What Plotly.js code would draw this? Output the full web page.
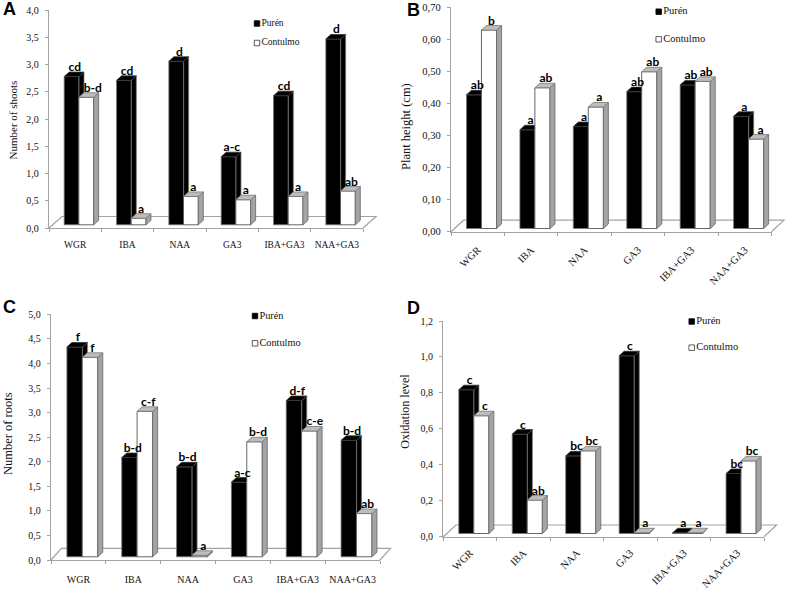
<!DOCTYPE html>
<html>
<head>
<meta charset="utf-8">
<script src="https://cdn.plot.ly/plotly-3.0.1.min.js"></script>
<style>html,body{margin:0;padding:0;background:#fff}#chart{width:787px;height:593px}</style>
</head>
<body>
<div id="chart"></div>
<script>
const W = 787, H = 593;
const categories = ['WGR', 'IBA', 'NAA', 'GA3', 'IBA+GA3', 'NAA+GA3'];
const seriesNames = ['Purén', 'Contulmo'];

const shootsPuren    = [2.72, 2.65, 3.00, 1.25, 2.37, 3.41];
const shootsContulmo = [2.34, 0.12, 0.52, 0.46, 0.52, 0.62];
const shootsLetters1 = ['cd', 'cd', 'd', 'a-c', 'cd', 'd'];
const shootsLetters2 = ['b-d', 'a', 'a', 'a', 'a', 'ab'];

const heightPuren    = [0.417, 0.308, 0.318, 0.427, 0.448, 0.350];
const heightContulmo = [0.619, 0.439, 0.379, 0.489, 0.459, 0.279];
const heightLetters1 = ['ab', 'a', 'a', 'ab', 'ab', 'a'];
const heightLetters2 = ['b', 'ab', 'a', 'ab', 'ab', 'a'];

const rootsPuren    = [4.27, 2.02, 1.83, 1.52, 3.18, 2.37];
const rootsContulmo = [4.06, 2.96, 0.03, 2.34, 2.56, 0.88];
const rootsLetters1 = ['f', 'b-d', 'b-d', 'a-c', 'd-f', 'b-d'];
const rootsLetters2 = ['f', 'c-f', 'a', 'b-d', 'c-e', 'ab'];

const oxPuren    = [0.80, 0.553, 0.432, 0.989, 0.004, 0.334];
const oxContulmo = [0.655, 0.186, 0.46, 0.004, 0.004, 0.404];
const oxLetters1 = ['c', 'c', 'bc', 'c', 'a', 'bc'];
const oxLetters2 = ['c', 'ab', 'bc', 'a', 'a', 'bc'];

const panels = [
  {letter:'A', lx:9,  ly:9, a:shootsPuren, b:shootsContulmo, la:shootsLetters1, lb:shootsLetters2, nudgeB:[4,0,0,0,0,1],
   ymax:4, dtick:0.5, fmt:'.1f', title:'Number of shoots', tx:12, ty:120.5, tsize:11,
   left:49, right:363, top:10, bottom:228, floorDx:13, floorDy:11.5, tick:10, cat:9.5, angle:0, stand:8,
   leg:[257,23.5,43], legSize:9.5},
  {letter:'B', lx:413, ly:10, a:heightPuren, b:heightContulmo, la:heightLetters1, lb:heightLetters2, nudgeB:[0,1,1,1,1,2],
   ymax:0.7, dtick:0.1, fmt:'.2f', title:'Plant height (cm)', tx:406, ty:127, tsize:12.5,
   left:451, right:771.5, top:7.3, bottom:231.7, floorDx:12.5, floorDy:11.5, tick:10.5, cat:10.5, angle:-45, stand:7,
   leg:[658.7,11.7,39.3], legSize:10.5},
  {letter:'C', lx:9, ly:307, a:rootsPuren, b:rootsContulmo, la:rootsLetters1, lb:rootsLetters2, nudgeB:[0,1,1,1,3,1],
   ymax:5, dtick:0.5, fmt:'.1f', title:'Number of roots', tx:8, ty:434, tsize:12.5,
   left:51, right:380, top:314.3, bottom:560, floorDx:10.5, floorDy:11.7, tick:10, cat:10, angle:0, stand:10,
   leg:[255,316,343.3], legSize:10.3},
  {letter:'D', lx:413, ly:308, a:oxPuren, b:oxContulmo, la:oxLetters1, lb:oxLetters2, nudgeB:[1,1,1,1,1,1],
   ymax:1.2, dtick:0.2, fmt:'.1f', title:'Oxidation level', tx:405, ty:411.7, tsize:12,
   left:443.3, right:764, top:321, bottom:536.7, floorDx:12.7, floorDy:11.7, tick:10, cat:10.5, angle:-45, stand:5,
   leg:[691.7,321.5,347.7], legSize:10.5}
];

const GRAY = '#a3a3a3', SERIF = '"Liberation Serif", serif';
const BAR_W = 0.283, OFF_A = -0.21, OFF_B = 0.07;
const DEPTH_X = 5, DEPTH_Y = 4.5, BASE_LIFT = 3.2, LABEL_LIFT = 4;
const xIdx = categories.map((_, i) => i);
const traces = [], shapes = [], annotations = [], layout = {
  width: W, height: H, autosize: false, separators: ',.',
  margin: {l: 0, r: 0, t: 0, b: 0}, showlegend: false, hovermode: false,
  paper_bgcolor: '#fff', plot_bgcolor: 'rgba(0,0,0,0)', barmode: 'overlay',
  font: {family: SERIF, color: '#111'}
};

function faces(vals, off, base, dx, dy) {
  const side = {x: [], y: []}, top = {x: [], y: []};
  vals.forEach((v, i) => {
    const x0 = i + off, x1 = x0 + BAR_W, yt = base + v;
    side.x.push(x1, x1 + dx, x1 + dx, x1, x1, null);
    side.y.push(base, base + dy, yt + dy, yt, base, null);
    top.x.push(x0, x1, x1 + dx, x0 + dx, x0, null);
    top.y.push(yt, yt, yt + dy, yt + dy, yt, null);
  });
  return {side, top};
}

panels.forEach((p, k) => {
  const xb = 'x' + (2 * k + 1), yb = 'y' + (2 * k + 1), xo = 'x' + (2 * k + 2), yo = 'y' + (2 * k + 2);
  const name = a => a[0] + 'axis' + a.slice(1);
  const xPx = 6 / (p.right - p.left), yPx = p.ymax / (p.bottom - p.top);
  const dx = DEPTH_X * xPx, dy = DEPTH_Y * yPx, base = BASE_LIFT * yPx;
  const xDom = [p.left / W, p.right / W], yDom = [1 - p.bottom / H, 1 - p.top / H];

  layout[name(xb)] = {domain: xDom, range: [-0.5, 5.5], anchor: yb, type: 'linear', showgrid: false, zeroline: false,
    showline: true, linecolor: GRAY, linewidth: 1.2, ticks: 'outside', ticklen: 3, tickcolor: GRAY,
    tickmode: 'array', tickvals: [-0.5, 0.5, 1.5, 2.5, 3.5, 4.5, 5.5], showticklabels: false, fixedrange: true};
  layout[name(yb)] = {domain: yDom, range: [0, p.ymax], anchor: xb, showgrid: false, zeroline: false,
    showline: true, linecolor: GRAY, linewidth: 1.2, ticks: 'outside', ticklen: 3, tickcolor: GRAY,
    dtick: p.dtick, tick0: 0, tickformat: p.fmt, ticklabelstandoff: 4,
    tickfont: {family: SERIF, size: p.tick, color: '#111'}, fixedrange: true};
  layout[name(xo)] = {overlaying: xb, range: [-0.5, 5.5], anchor: yo, type: 'linear', showgrid: false, zeroline: false,
    showline: false, ticks: 'outside', ticklen: p.stand, tickcolor: 'rgba(0,0,0,0)',
    tickmode: 'array', tickvals: xIdx, ticktext: categories, tickangle: p.angle,
    tickfont: {family: SERIF, size: p.cat, color: '#111'}, fixedrange: true};
  layout[name(yo)] = {overlaying: yb, range: [0, p.ymax], anchor: xo, visible: false, fixedrange: true};

  const fa = faces(p.a, OFF_A, base, dx, dy), fb = faces(p.b, OFF_B, base, dx, dy);
  const poly = (f, fill, line, xa, ya) => ({type: 'scatter', mode: 'lines', x: f.x, y: f.y, xaxis: xa, yaxis: ya,
    fill: 'toself', fillcolor: fill, line: {color: line, width: 0.8}, cliponaxis: false, showlegend: false});

  traces.push({type: 'bar', name: seriesNames[0], x: xIdx, y: p.a, base: base, width: BAR_W, offset: OFF_A,
    xaxis: xb, yaxis: yb, marker: {color: '#000', line: {color: '#777', width: 0.8}}, cliponaxis: false});
  traces.push(poly(fa.side, '#000', '#777', xb, yb));
  traces.push(poly(fa.top, '#000', '#333', xb, yb));

  traces.push({type: 'bar', name: seriesNames[1], x: xIdx, y: p.b, base: base, width: BAR_W, offset: OFF_B,
    xaxis: xo, yaxis: yo, marker: {color: '#fff', line: {color: '#555', width: 0.9}}, cliponaxis: false});
  traces.push(poly(fb.side, '#a4a4a4', '#666', xo, yo));
  traces.push(poly(fb.top, '#bdbdbd', '#777', xo, yo));

  const labels = (vals, off, txt, nudge) => ({type: 'scatter', mode: 'text',
    x: vals.map((_, i) => i + off + BAR_W / 2 + dx / 2 + (nudge ? nudge[i] : 0.7) * xPx),
    y: vals.map(v => base + v + dy + LABEL_LIFT * yPx), text: txt, textposition: 'middle center', xaxis: xo, yaxis: yo, cliponaxis: false,
    textfont: {family: '"Liberation Sans Narrow", Lato, sans-serif', size: 12, color: '#000', weight: 700}, showlegend: false});
  traces.push(labels(p.a, OFF_A, p.la));
  traces.push(labels(p.b, OFF_B, p.lb, p.nudgeB));

  const lx = -0.5 + (p.leg[0] - p.left) * xPx;
  [[p.leg[1], '#000', '#000'], [p.leg[2], '#fff', '#333']].forEach((e, j) => {
    traces.push({type: 'scatter', mode: 'markers+text', x: [lx], y: [(p.bottom - e[0]) * yPx], text: [seriesNames[j]],
      textposition: 'middle right', xaxis: xo, yaxis: yo, cliponaxis: false, showlegend: false,
      marker: {symbol: 'square', size: 5.5, color: e[1], line: {color: e[2], width: 0.8}},
      textfont: {family: SERIF, size: p.legSize, color: '#111'}});
  });

  const px = v => v / W, py = v => 1 - v / H;
  shapes.push({type: 'path', xref: 'paper', yref: 'paper', layer: 'below', line: {color: GRAY, width: 1.2},
    path: `M${px(p.left)},${py(p.bottom)} L${px(p.left + p.floorDx)},${py(p.bottom - p.floorDy)} ` +
          `L${px(p.right + p.floorDx)},${py(p.bottom - p.floorDy)} L${px(p.right)},${py(p.bottom)}`});

  annotations.push({xref: 'paper', yref: 'paper', x: px(p.lx), y: py(p.ly), text: p.letter, showarrow: false,
    xanchor: 'center', yanchor: 'middle', font: {family: '"Liberation Sans", Arial, sans-serif', size: 18, weight: 700, color: '#000'}});
  annotations.push({xref: 'paper', yref: 'paper', x: px(p.tx), y: py(p.ty), text: p.title, showarrow: false, textangle: -90,
    xanchor: 'center', yanchor: 'middle', font: {family: SERIF, size: p.tsize, color: '#111'}});
});

layout.shapes = shapes;
layout.annotations = annotations;
Plotly.newPlot('chart', traces, layout, {displayModeBar: false, staticPlot: true});
</script>
</body>
</html>
